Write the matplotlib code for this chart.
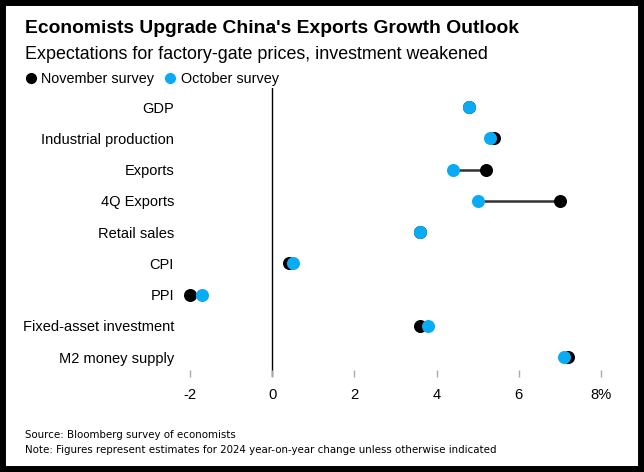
import matplotlib
matplotlib.use("Agg")
import matplotlib.pyplot as plt
from matplotlib.lines import Line2D
from matplotlib.patches import Rectangle

plt.rcParams['font.family'] = ['Liberation Sans', 'DejaVu Sans']

categories = ["GDP", "Industrial production", "Exports", "4Q Exports", "Retail sales",
              "CPI", "PPI", "Fixed-asset investment", "M2 money supply"]
november = [4.8, 5.4, 5.2, 7.0, 3.6, 0.4, -2.0, 3.6, 7.2]
october = [4.8, 5.3, 4.4, 5.0, 3.6, 0.5, -1.7, 3.8, 7.1]
xticks = [-2, 0, 2, 4, 6, 8]
xtick_labels = ["-2", "0", "2", "4", "6", "8%"]

BLUE = "#0aabf5"
W, H = 644, 472

fig = plt.figure(figsize=(W / 100, H / 100), dpi=100)

def fy(px):
    return 1 - px / H

# black frame
fig.add_artist(Rectangle((0, 0), 1, 1, transform=fig.transFigure, fill=False,
                         edgecolor="black", linewidth=8.6))

ax = fig.add_axes([173.6 / W, 1 - 377 / H, 443.8 / W, 289 / H])
ypos = list(range(len(categories)))

for y, n, o in zip(ypos, november, october):
    ax.plot([n, o], [y, y], color="#333333", lw=1.8, zorder=1, solid_capstyle="butt")
ax.scatter(november, ypos, s=88, color="black", zorder=2, linewidths=0)
ax.scatter(october, ypos, s=88, color=BLUE, zorder=3, linewidths=0)
ax.axvline(0, color="black", lw=1.0, zorder=0)

ax.set_xlim(-2.4, 8.4)
ax.set_ylim(8.64, -0.61)
ax.set_xticks(xticks)
ax.set_xticklabels(xtick_labels, fontsize=10.6)
ax.set_yticks(ypos)
ax.set_yticklabels(categories, fontsize=10.5)
ax.tick_params(axis="x", direction="in", length=5, width=1, color="#aaaaaa", pad=8)
ax.tick_params(axis="y", length=0, pad=-0.3)
for s in ax.spines.values():
    s.set_visible(False)

x0 = 25 / W
fig.text(x0, fy(33), "Economists Upgrade China's Exports Growth Outlook",
         fontsize=13.9, fontweight="bold", va="baseline", ha="left")
fig.text(x0, fy(59), "Expectations for factory-gate prices, investment weakened",
         fontsize=12.9, va="baseline", ha="left")

# legend
fig.add_artist(Line2D([31 / W], [fy(78)], marker="o", markersize=7, color="black",
                      linestyle="none", transform=fig.transFigure))
fig.text(41 / W, fy(83), "November survey", fontsize=10.4, va="baseline")
fig.add_artist(Line2D([170 / W], [fy(78)], marker="o", markersize=7, color=BLUE,
                      linestyle="none", transform=fig.transFigure))
fig.text(181 / W, fy(83), "October survey", fontsize=10.4, va="baseline")

foot = ['DejaVu Sans']
fig.text(x0, fy(438), "Source: Bloomberg survey of economists",
         fontsize=8.2, va="baseline", family=foot, stretch="condensed")
fig.text(x0, fy(453), "Note: Figures represent estimates for 2024 year-on-year change unless otherwise indicated",
         fontsize=8.2, va="baseline", family=foot, stretch="condensed")

fig.savefig("out.png", dpi=100)
